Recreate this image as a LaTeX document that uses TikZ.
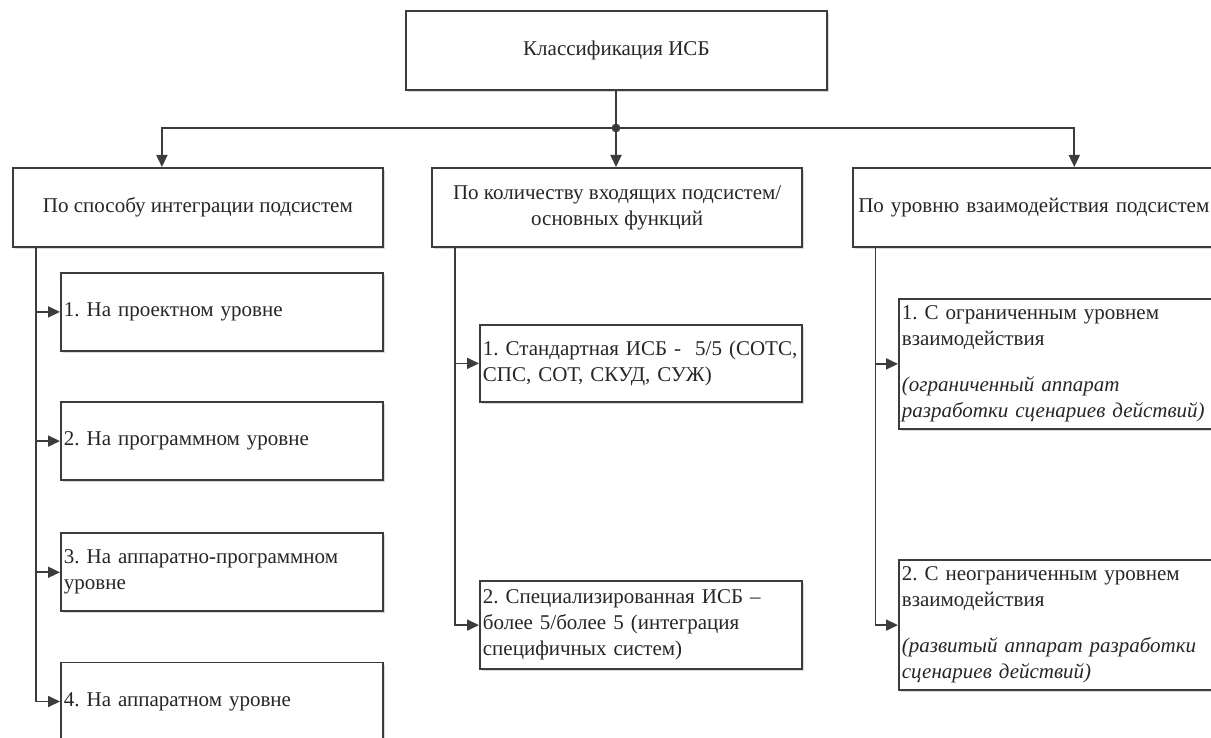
\documentclass[tikz,border=0pt]{standalone}
\usepackage{fontspec}
\setmainfont{Liberation Serif}
\usetikzlibrary{arrows.meta,positioning,shadows}

\definecolor{edgegray}{HTML}{3C3C3C}
\definecolor{textgray}{HTML}{262626}
\frenchspacing

\begin{document}
\begin{tikzpicture}[x=0.5pt,y=-0.5pt,
  font=\fontsize{10.5}{13}\selectfont,
  box/.style={draw=edgegray,line width=0.9pt,fill=white,text=textgray,inner sep=0pt,
    drop shadow={shadow xshift=1pt,shadow yshift=-1pt,fill=black!25,opacity=0.6}},
  head/.style={box,align=center,minimum width=185pt,minimum height=39.5pt},
  item/.style={box,align=left,inner xsep=1.5pt,text width=158pt,minimum height=39pt},
  link/.style={draw=edgegray,line width=0.9pt},
  arr/.style={link,-{Triangle[length=6pt,width=5.5pt]}}]

\useasboundingbox (0,0) rectangle (1211,738);
\clip (0,0) rectangle (1211,738);

% root
\node[box,anchor=north west,minimum width=210.5pt,minimum height=39.5pt] (root) at (405,10) {Классификация ИСБ};

% three groups
\node[head,anchor=north west] (byint) at (12,167) {По способу интеграции подсистем};
\node[head,right=23.7pt of byint] (bycount) {По количеству входящих подсистем/\\основных функций};
\node[head,right=24.7pt of bycount,align=left,inner xsep=2.5pt,text width=180pt] (bylevel) {По уровню взаимодействия подсистем};

\coordinate (fork) at (616,128);
\draw[link] (root.south -| fork) -- (fork);
\fill[edgegray] (fork) circle (2.2pt);
\draw[arr] (fork) -| ([xshift=-18pt]byint.north);
\draw[arr] (fork) -- (fork |- bycount.north);
\draw[arr] (fork) -| ([xshift=18pt]bylevel.north);

% by integration
\node[item,anchor=north west] (int1) at (60,272) {1. На проектном уровне};
\node[item,below=24.7pt of int1] (int2) {2. На программном уровне};
\node[item,below=25.7pt of int2] (int3) {3. На аппаратно-программном\\уровне};
\node[item,below=24.7pt of int3] (int4) {4. На аппаратном уровне};

\coordinate (trunkint) at ([xshift=12pt]byint.south west);
\draw[arr] (trunkint) |- (int4.west);
\foreach \k in {1,2,3}
  \draw[arr] (trunkint |- int\k.west) -- (int\k.west);

% by count
\node[item,anchor=north west,minimum height=38.5pt] (cnt1) at (479,324) {1. Стандартная ИСБ -\ \ 5/5 (СОТС,\\СПС, СОТ, СКУД, СУЖ)};
\node[item,below=88.7pt of cnt1,minimum height=44pt] (cnt2) {2. Специализированная ИСБ –\\более 5/более 5 (интеграция\\специфичных систем)};

\coordinate (trunkcnt) at ([xshift=12pt]bycount.south west);
\draw[arr] (trunkcnt) |- (cnt2.west);
\draw[arr] (trunkcnt |- cnt1.west) -- (cnt1.west);

% by level
\node[item,anchor=north west,text width=162pt,minimum height=65pt] (lvl1) at (898,298) {1. С ограниченным уровнем\\взаимодействия\\[10pt]\textit{(ограниченный аппарат}\\\textit{разработки сценариев действий)}};
\node[item,below=64.7pt of lvl1,text width=162pt,minimum height=65pt] (lvl2) {2. С неограниченным уровнем\\взаимодействия\\[10pt]\textit{(развитый аппарат разработки}\\\textit{сценариев действий)}};

\coordinate (trunklvl) at ([xshift=11.5pt]bylevel.south west);
\draw[arr] (trunklvl) |- (lvl2.west);
\draw[arr] (trunklvl |- lvl1.west) -- (lvl1.west);
\end{tikzpicture}
\end{document}
